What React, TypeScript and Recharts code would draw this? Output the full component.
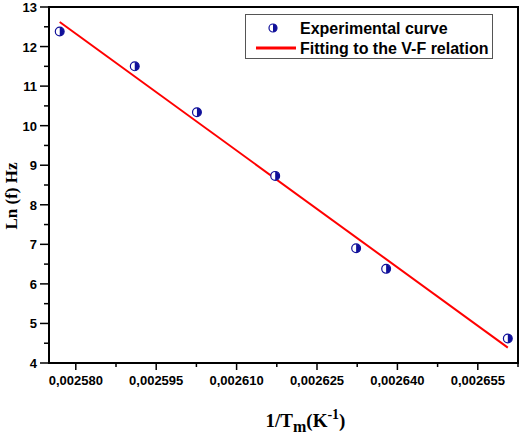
import { ComposedChart, Line, ReferenceArea, Scatter, XAxis, YAxis } from "recharts";

// 1/Tm (K^-1) vs Ln(f)
const invTm = [0.002577, 0.002591, 0.0026026, 0.0026172, 0.0026323, 0.0026379, 0.0026606];
const lnF = [12.38, 11.5, 10.34, 8.73, 6.9, 6.38, 4.62];

// V-F fit, drawn between the first and last measurement
const fitX = [0.002577, 0.0026606];
const fitY = [12.62, 4.39];

const xDomain = [0.002575, 0.0026625];
const yDomain = [4, 13];
const xTicks = [
  0.00258, 0.0025875, 0.002595, 0.0026025, 0.00261, 0.0026175, 0.002625,
  0.0026325, 0.00264, 0.0026475, 0.002655, 0.0026625,
];
const yTicks = [4, 4.5, 5, 5.5, 6, 6.5, 7, 7.5, 8, 8.5, 9, 9.5, 10, 10.5, 11, 11.5, 12, 12.5, 13];

const points = invTm.map((x, i) => ({ x, y: lnF[i] }));
const fit = fitX.map((x, i) => ({ x, y: fitY[i] }));

const NAVY = "#10109a";
const SANS = "'Liberation Sans', Arial, sans-serif";
const SERIF = "'Liberation Serif', 'Times New Roman', serif";

function HalfDot({ cx, cy, r = 4.4 }: { cx?: number; cy?: number; r?: number }) {
  if (cx == null || cy == null) return null;
  return (
    <g>
      <circle cx={cx} cy={cy} r={r} fill="#fff" stroke={NAVY} strokeWidth={1.2} />
      <path d={`M${cx},${cy - r} A${r},${r} 0 0 1 ${cx},${cy + r} Z`} fill={NAVY} />
    </g>
  );
}

function XTick({ x, y, payload }: any) {
  const v = Math.round(payload.value * 1e7);
  const major = v % 150 === 0;
  return (
    <g>
      <line x1={x} x2={x} y1={y} y2={y + (major ? 7 : 4)} stroke="#000" strokeWidth={1.5} />
      {major && (
        <text x={x} y={y + 22} textAnchor="middle" fontFamily={SANS} fontWeight="bold" fontSize={13} fill="#000">
          {payload.value.toFixed(6).replace(".", ",")}
        </text>
      )}
    </g>
  );
}

function YTick({ x, y, payload }: any) {
  const major = Number.isInteger(payload.value);
  return (
    <g>
      <line x1={x - (major ? 9 : 5)} x2={x} y1={y} y2={y} stroke="#000" strokeWidth={1.5} />
      {major && (
        <text x={x - 12} y={y + 5} textAnchor="end" fontFamily={SANS} fontWeight="bold" fontSize={13} fill="#000">
          {payload.value}
        </text>
      )}
    </g>
  );
}

export default function App() {
  const axisLine = { stroke: "#000", strokeWidth: 2 };
  return (
    <div style={{ position: "absolute", left: 0, top: 0, width: 529, height: 436, background: "#fff" }}>
      <ComposedChart width={529} height={436} data={points} margin={{ top: 7, right: 11, bottom: 0, left: 0 }}>
        <XAxis
          dataKey="x"
          type="number"
          domain={xDomain}
          ticks={xTicks}
          interval={0}
          height={73}
          tickSize={0}
          tickMargin={0}
          tickLine={false}
          axisLine={axisLine}
          tick={<XTick />}
          label={{
            content: ({ viewBox }: any) => (
              <text
                x={viewBox.x + viewBox.width / 2 + 22}
                y={viewBox.y + 64}
                textAnchor="middle"
                fontFamily={SERIF}
                fontWeight="bold"
                fontSize={19}
                fill="#000"
              >
                1/T
                <tspan fontSize={16} dy={5}>m</tspan>
                <tspan dy={-5}>(K</tspan>
                <tspan fontSize={14} dy={-8}>-1</tspan>
                <tspan dy={8}>)</tspan>
              </text>
            ),
          }}
        />
        <YAxis
          type="number"
          domain={yDomain}
          ticks={yTicks}
          interval={0}
          width={49}
          tickSize={0}
          tickMargin={0}
          tickLine={false}
          axisLine={axisLine}
          tick={<YTick />}
          label={{
            content: () => (
              <text
                x={17}
                y={196}
                transform="rotate(-90 17 196)"
                textAnchor="middle"
                fontFamily={SERIF}
                fontWeight="bold"
                fontSize={17}
                fill="#000"
              >
                Ln (f) Hz
              </text>
            ),
          }}
        />
        <ReferenceArea
          x1={xDomain[0]}
          x2={xDomain[1]}
          y1={yDomain[0]}
          y2={yDomain[1]}
          fill="none"
          fillOpacity={0}
          stroke="#000"
          strokeWidth={2}
          strokeOpacity={1}
        />
        <Line data={fit} dataKey="y" type="linear" stroke="#ff0000" strokeWidth={2} dot={false} isAnimationActive={false} />
        <Scatter data={points} dataKey="y" shape={<HalfDot />} isAnimationActive={false} />
      </ComposedChart>
      <svg width={248} height={45} style={{ position: "absolute", left: 245, top: 14 }}>
        <rect x={0.5} y={0.5} width={247} height={44} fill="#fff" stroke="#555" />
        <HalfDot cx={28} cy={14} r={4} />
        <line x1={11} x2={51} y1={34} y2={34} stroke="#ff0000" strokeWidth={3} />
        <text x={55} y={20} fontFamily={SANS} fontWeight="bold" fontSize={16} fill="#000">
          Experimental curve
        </text>
        <text x={55} y={40} fontFamily={SANS} fontWeight="bold" fontSize={16} fill="#000">
          Fitting to the V-F relation
        </text>
      </svg>
    </div>
  );
}
